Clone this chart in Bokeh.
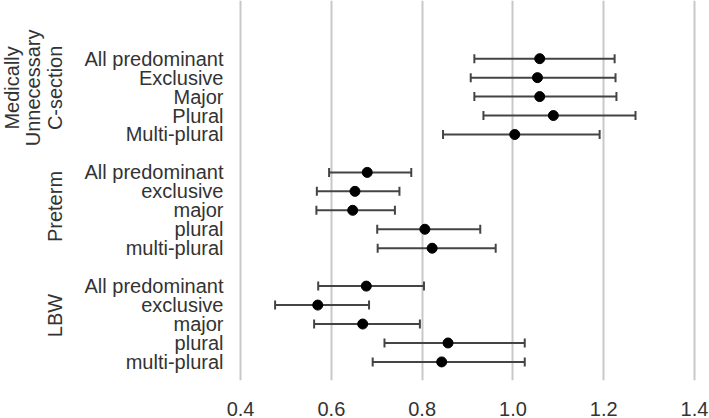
from bokeh.plotting import figure
from bokeh.layouts import row
from bokeh.models import ColumnDataSource, Range1d, FixedTicker, Whisker, TeeHead
from bokeh.embed import file_html
from bokeh.resources import INLINE
import math

# Odds ratios with 95% confidence intervals for each outcome / definition
group_lines = [["Medically", "Unnecessary", "C-section"], ["Preterm"], ["LBW"]]
row_labels = [
    ["All predominant", "Exclusive", "Major", "Plural", "Multi-plural"],
    ["All predominant", "exclusive", "major", "plural", "multi-plural"],
    ["All predominant", "exclusive", "major", "plural", "multi-plural"],
]
estimate = [
    [1.059, 1.054, 1.059, 1.089, 1.004],
    [0.679, 0.652, 0.647, 0.806, 0.822],
    [0.677, 0.570, 0.669, 0.857, 0.843],
]
lower = [
    [0.915, 0.907, 0.915, 0.935, 0.846],
    [0.595, 0.568, 0.567, 0.701, 0.702],
    [0.571, 0.476, 0.562, 0.717, 0.691],
]
upper = [
    [1.224, 1.226, 1.228, 1.270, 1.191],
    [0.776, 0.750, 0.740, 0.928, 0.962],
    [0.804, 0.683, 0.795, 1.026, 1.026],
]
x_ticks = [0.4, 0.6, 0.8, 1.0, 1.2, 1.4]
x_tick_labels = ["0.4", "0.6", "0.8", "1.0", "1.2", "1.4"]

FONT = "Liberation Sans"
TEXT = "#333333"
FS = "20px"

# one row slot per estimate, with an empty slot between outcome groups
ys, xs, los, his, labels = [], [], [], [], {}
slot = 0
group_centers = []
for g in range(len(row_labels)):
    start = slot
    for i in range(len(row_labels[g])):
        ys.append(slot)
        xs.append(estimate[g][i])
        los.append(lower[g][i])
        his.append(upper[g][i])
        labels[slot] = row_labels[g][i]
        slot += 1
    group_centers.append((start + slot - 1) / 2)
    slot += 1

src = ColumnDataSource(dict(y=ys, x=xs, lo=los, hi=his))

H = 418
SIDE_W = 70
MAIN_W = 709 - SIDE_W
x_start, x_end = 0.391, 1.422
y_range = Range1d(16.98, -3.07)

# ---- main panel: estimates, intervals and row labels ----
p = figure(width=MAIN_W, height=H, output_backend="svg", toolbar_location=None,
           x_range=Range1d(x_start, x_end), y_range=y_range,
           min_border_left=166, min_border_right=5,
           min_border_top=0, min_border_bottom=31)
p.outline_line_color = None
p.background_fill_color = "white"
p.border_fill_color = "white"

p.xaxis.ticker = FixedTicker(ticks=x_ticks)
p.xaxis.major_label_overrides = {t: s for t, s in zip(x_ticks, x_tick_labels)}
p.xaxis.axis_line_color = None
p.xaxis.major_tick_line_color = None
p.xaxis.minor_tick_line_color = None
p.xaxis.major_label_standoff = 15
p.xaxis.major_label_text_font = FONT
p.xaxis.major_label_text_font_size = FS
p.xaxis.major_label_text_color = TEXT
p.xgrid.ticker = FixedTicker(ticks=x_ticks)
p.xgrid.grid_line_color = "#c8c8c8"
p.xgrid.grid_line_width = 2
p.ygrid.grid_line_color = None

p.yaxis.ticker = FixedTicker(ticks=list(labels.keys()))
p.yaxis.major_label_overrides = labels
p.yaxis.axis_line_color = None
p.yaxis.major_tick_line_color = None
p.yaxis.minor_tick_line_color = None
p.yaxis.major_tick_out = 0
p.yaxis.major_label_standoff = 13
p.yaxis.major_label_text_font = FONT
p.yaxis.major_label_text_font_size = FS
p.yaxis.major_label_text_color = TEXT

p.add_layout(Whisker(source=src, base="y", lower="lo", upper="hi", dimension="width",
                     line_color="#444444", line_width=2,
                     lower_head=TeeHead(size=9, line_color="#444444", line_width=2),
                     upper_head=TeeHead(size=9, line_color="#444444", line_width=2)))
p.scatter("x", "y", source=src, size=10, color="black")

# ---- side panel: vertical outcome group names ----
side = figure(width=SIDE_W, height=H, output_backend="svg", toolbar_location=None,
              x_range=Range1d(0, SIDE_W), y_range=y_range,
              x_axis_type=None, y_axis_type=None,
              min_border_left=0, min_border_right=0,
              min_border_top=0, min_border_bottom=31)
side.outline_line_color = None
side.grid.grid_line_color = None
side.background_fill_color = "white"
side.border_fill_color = "white"

shift = [-0.46, -0.2, -0.45]
line_step = 21.6
last_center = 54.5
gx, gy, gt = [], [], []
for g, lines in enumerate(group_lines):
    n = len(lines)
    for j, t in enumerate(lines):
        gx.append(last_center - (n - 1 - j) * line_step)
        gy.append(group_centers[g] + shift[g])
        gt.append(t)
side.text(x=gx, y=gy, text=gt, angle=math.pi / 2,
          text_align="center", text_baseline="middle",
          text_font={"value": FONT}, text_font_size={"value": FS}, text_color=TEXT)

open("out.html", "w").write(file_html(row(side, p), INLINE))
